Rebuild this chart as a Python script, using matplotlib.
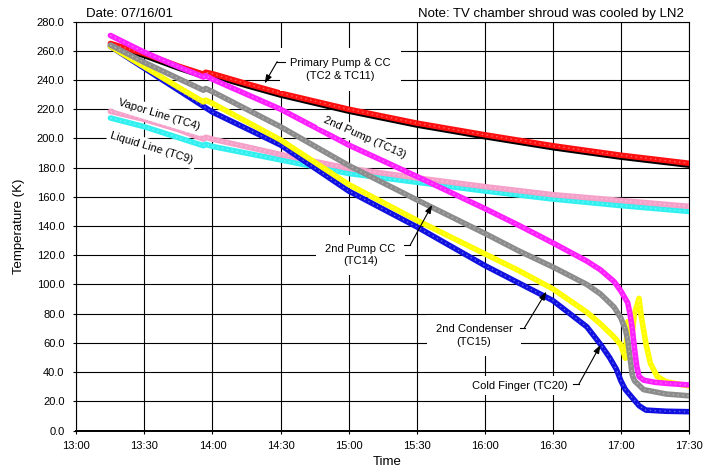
import matplotlib
matplotlib.use("Agg")
import matplotlib.pyplot as plt

plt.rcParams['font.family'] = ['Liberation Sans', 'DejaVu Sans']

# ---------------- data (time "HH:MM", temperature K) ----------------
x_tick_labels = ["13:00", "13:30", "14:00", "14:30", "15:00", "15:30",
                 "16:00", "16:30", "17:00", "17:30"]
y_ticks = [0, 20, 40, 60, 80, 100, 120, 140, 160, 180, 200, 220, 240, 260, 280]

tc9_t = ["13:15", "13:30", "13:45", "13:56", "13:57", "14:00", "14:30", "15:00",
         "15:30", "16:00", "16:30", "17:00", "17:30"]
tc9_v = [214, 208, 200.5, 195, 196, 194.5, 185.3, 176, 170, 164, 158.5, 154, 150]

tc4_t = ["13:15", "13:30", "13:45", "13:56", "13:57", "14:00", "14:30", "15:00",
         "15:30", "16:00", "16:30", "17:00", "17:30"]
tc4_v = [218.5, 213, 206, 199.5, 200.8, 199.5, 189, 179.5, 173, 167, 161.5, 157.5, 153.5]

tc2_t = ["13:15", "13:30", "13:45", "13:56", "13:57", "14:00", "14:15", "14:30",
         "15:00", "15:30", "16:00", "16:30", "17:00", "17:30"]
tc2_v = [263.3, 256.3, 247.8, 242.2, 243.5, 242.6, 235.8, 229.3, 218.3, 208.8,
         200.8, 193.3, 186.8, 181.3]

tc11_t = ["13:15", "13:30", "13:45", "13:56", "13:57", "14:00", "14:15", "14:30",
          "15:00", "15:30", "16:00", "16:30", "17:00", "17:30"]
tc11_v = [265, 258, 249.5, 244, 245.3, 244.3, 237.5, 231, 220, 210.5, 202.5, 195,
          188.5, 183]

tc20_t = ["13:15", "13:30", "13:45", "14:00", "14:30", "15:00", "15:30", "16:00",
          "16:15", "16:30", "16:45", "16:51", "16:55", "16:58", "17:00", "17:02",
          "17:05", "17:08", "17:11", "17:20", "17:30"]
tc20_v = [263, 248, 233, 218, 195.5, 164, 139.5, 113, 101, 89, 71, 59, 50, 42,
          34, 28, 22.5, 17, 14, 13.2, 12.9]

tc15_t = ["13:15", "13:30", "13:45", "13:56", "13:57", "14:00", "14:30", "15:00",
          "15:30", "16:00", "16:15", "16:30", "16:45", "16:51", "16:57", "17:00",
          "17:02", "17:03", "17:05", "17:06", "17:08", "17:09", "17:11", "17:13",
          "17:16", "17:20", "17:30"]
tc15_v = [263, 249, 235, 225, 226.2, 224, 199, 168.5, 144, 121, 109.5, 97, 81, 73,
          64, 58.5, 49.5, 74.5, 66.5, 80, 90.5, 78, 59.7, 46, 37, 33.4, 30.5]

tc14_t = ["13:15", "13:30", "13:45", "13:56", "13:57", "14:00", "14:30", "15:00",
          "15:30", "16:00", "16:15", "16:30", "16:45", "16:51", "16:57", "17:00",
          "17:02", "17:03", "17:04", "17:05", "17:06", "17:10", "17:20", "17:30"]
tc14_v = [264, 252, 241, 233, 234.2, 232, 208, 181.5, 158, 135, 123, 112,
          100, 93.5, 84.5, 77, 69, 62, 50, 38, 34, 28, 25, 23.8]

tc13_t = ["13:15", "13:30", "13:45", "13:56", "13:57", "14:00", "14:30", "15:00",
          "15:30", "16:00", "16:15", "16:30", "16:45", "16:51", "16:57", "17:00",
          "17:03", "17:04", "17:05", "17:06", "17:07", "17:08", "17:10", "17:15",
          "17:20", "17:30"]
tc13_v = [270.5, 259, 249, 242, 243, 240.5, 220, 195.5, 174, 152, 140.5, 128.5,
          116, 110, 102, 95.5, 87.5, 80, 70, 56, 44, 37, 34.5, 33, 32.3, 31.2]


def hrs(ts):
    return [int(s[:2]) + int(s[3:]) / 60.0 for s in ts]


series = [
    (tc9_t, tc9_v, "#33f0f0", 4.0),
    (tc4_t, tc4_v, "#f5a0c8", 4.0),
    (tc2_t, tc2_v, "#000000", 3.2),
    (tc11_t, tc11_v, "#ff1010", 4.0),
    (tc20_t, tc20_v, "#1010e0", 4.0),
    (tc15_t, tc15_v, "#ffff00", 4.0),
    (tc14_t, tc14_v, "#8c8c8c", 4.0),
    (tc13_t, tc13_v, "#ff20ff", 4.0),
]

fig = plt.figure(figsize=(7.07, 4.69), dpi=100)
ax = fig.add_axes([0.108, 0.082, 0.8665, 0.872])

for i, (t, v, c, w) in enumerate(series):
    x = hrs(t)
    ax.plot(x, v, color=c, lw=w, solid_capstyle='round',
            solid_joinstyle='round', zorder=3 + 2 * i)
    if c != "#000000":
        ax.plot(x, v, color='white', lw=1.0, alpha=0.35, ls=(0, (1, 2.5)),
                zorder=4 + 2 * i)

ax.set_xlim(13.0, 17.5)
ax.set_ylim(0, 280)
xt = hrs(x_tick_labels)
ax.set_xticks(xt)
ax.set_xticklabels(x_tick_labels, fontsize=8)
ax.set_yticks(y_ticks)
ax.set_yticklabels(["%.1f" % y for y in y_ticks], fontsize=8)
ax.grid(True, color='black', lw=0.8, zorder=1)
ax.set_axisbelow(True)
ax.tick_params(direction='out', length=2.5, width=0.8)
ax.tick_params(axis='x', pad=5)
ax.tick_params(axis='y', pad=6)
for s in ax.spines.values():
    s.set_linewidth(0.8)
ax.spines['bottom'].set_linewidth(1.4)

fig.text(19 / 707, 1 - 226 / 469, "Temperature (K)", rotation=90,
         ha='center', va='center', fontsize=9.5)
fig.text(387 / 707, 1 - 462 / 469, "Time", ha='center', va='center', fontsize=9.5)
fig.text(86 / 707, 1 - 14 / 469, "Date: 07/16/01", ha='left', va='center',
         fontsize=9.5)
fig.text(684 / 707, 1 - 14 / 469, "Note: TV chamber shroud was cooled by LN2",
         ha='right', va='center', fontsize=9.5)

tz = 30


def label(x, y, s, rot=0, pad=0.5):
    ax.text(x, y, s, ha='center', va='center', fontsize=8, rotation=rot,
            rotation_mode='anchor', linespacing=1.35,
            bbox=dict(boxstyle='square,pad=%g' % pad, fc='white', ec='none'),
            zorder=tz)


def leader(p0, p1, tip):
    ax.plot([p0[0], p1[0]], [p0[1], p1[1]], color='black', lw=0.8, zorder=tz + 1)
    ax.annotate('', xy=tip, xytext=p1,
                arrowprops=dict(arrowstyle='-|>,head_length=0.5,head_width=0.18',
                                color='black', lw=0.8, shrinkA=0, shrinkB=0),
                zorder=tz + 1)


label(14.94, 247, "Primary Pump & CC\n(TC2 & TC11)", pad=0.9)
leader((14.535, 252.6), (14.475, 252.6), (14.383, 237.7))

label(13.608, 216.1, "Vapor Line (TC4)", rot=-17, pad=0.3)
label(13.555, 193.3, "Liquid Line (TC9)", rot=-17, pad=0.3)
label(15.115, 200.4, "2nd Pump (TC13)", rot=-24, pad=0.3)

label(15.087, 120.2, "2nd Pump CC\n(TC14)", pad=0.8)
leader((15.405, 127.1), (15.453, 127.1), (15.613, 154.5))

label(15.92, 65.1, "2nd Condenser\n(TC15)", pad=0.8)
leader((16.258, 70.4), (16.292, 70.4), (16.453, 95.1))

label(16.26, 30.7, "Cold Finger (TC20)", pad=0.4)
leader((16.65, 31.9), (16.692, 31.9), (16.85, 58.6))

fig.savefig("out.png", dpi=100, facecolor='white')
